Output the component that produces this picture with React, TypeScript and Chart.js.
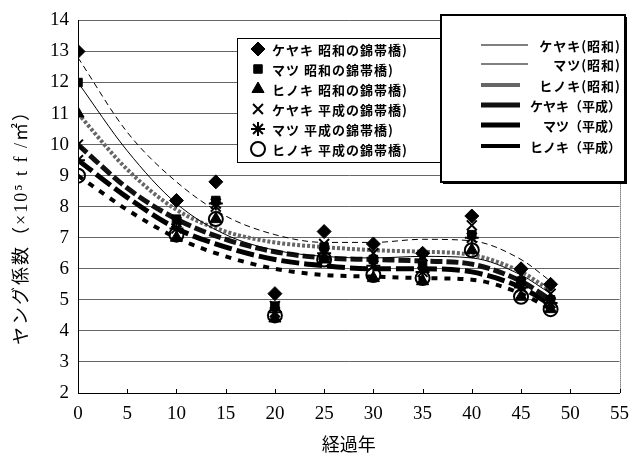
import React, { useEffect, useRef } from 'react';
import { Chart, registerables } from 'chart.js';
import { drawPoint } from 'chart.js/helpers';

Chart.register(...registerables);

// ---------- data ----------
const years = [0, 10, 14, 20, 25, 30, 35, 40, 45, 48];
const keyakiShowa = [13, 8.2, 8.8, 5.2, 7.2, 6.8, 6.5, 7.7, 6.0, 5.5];
const matsuShowa = [12, 7.6, 8.2, 4.8, 6.7, 6.3, 6.1, 7.1, 5.6, 5.0];
const hinokiShowa = [11, 7.0, 7.6, 4.4, 6.3, 5.7, 5.6, 6.6, 5.1, 4.7];
const keyakiHeisei = [10, 7.5, 8.0, 4.8, 6.8, 6.5, 6.4, 7.4, 5.8, 5.2];
const matsuHeisei = [9.5, 7.3, 8.1, 4.6, 6.5, 6.1, 5.9, 7.0, 5.4, 4.9];
const hinokiHeisei = [9.0, 7.1, 7.6, 4.5, 6.3, 5.8, 5.7, 6.6, 5.1, 4.7];

const trendYears = [0, 5, 10, 15, 20, 25, 30, 35, 40, 45, 48];
const keyakiShowaTrend = [12.8, 10.4, 8.8, 7.7, 7.1, 6.85, 6.85, 6.95, 6.9, 6.3, 5.6];
const matsuShowaTrend = [12.0, 9.8, 8.1, 7.1, 6.6, 6.4, 6.35, 6.4, 6.35, 5.8, 5.2];
const hinokiShowaTrend = [11.0, 9.2, 7.9, 7.2, 6.85, 6.7, 6.6, 6.55, 6.45, 5.9, 5.3];
const keyakiHeiseiTrend = [10.0, 8.6, 7.6, 6.95, 6.55, 6.35, 6.3, 6.25, 6.15, 5.6, 5.0];
const matsuHeiseiTrend = [9.5, 8.3, 7.3, 6.7, 6.3, 6.1, 6.0, 6.0, 5.9, 5.4, 4.85];
const hinokiHeiseiTrend = [9.0, 7.9, 7.0, 6.4, 6.0, 5.8, 5.75, 5.7, 5.65, 5.2, 4.7];

const pointLabels = [
  'ケヤキ 昭和の錦帯橋)',
  'マツ 昭和の錦帯橋)',
  'ヒノキ 昭和の錦帯橋)',
  'ケヤキ 平成の錦帯橋)',
  'マツ 平成の錦帯橋)',
  'ヒノキ 平成の錦帯橋)',
];
const trendLabels = [
  'ケヤキ(昭和)',
  'マツ(昭和)',
  'ヒノキ(昭和)',
  'ケヤキ（平成）',
  'マツ（平成）',
  'ヒノキ（平成）',
];

const xTicksMin = 0;
const xTicksMax = 55;
const xStep = 5;
const yMin = 2;
const yMax = 14;
const yStep = 1;

const yTitle = 'ヤング係数（×10⁵ t f /㎡）';
const xTitle = '経過年';

const SERIF = "'Liberation Serif', 'Noto Sans CJK JP', serif";
const JP = "'Noto Sans CJK JP', 'Noto Sans', sans-serif";

const pointSeries = [keyakiShowa, matsuShowa, hinokiShowa, keyakiHeisei, matsuHeisei, hinokiHeisei];
const trendSeries = [keyakiShowaTrend, matsuShowaTrend, hinokiShowaTrend, keyakiHeiseiTrend, matsuHeiseiTrend, hinokiHeiseiTrend];

const pointStyles = [
  { pointStyle: 'rectRot', radius: 7, bg: '#000', bw: 1 },
  { pointStyle: 'rect', radius: 6, bg: '#000', bw: 1 },
  { pointStyle: 'triangle', radius: 7, bg: '#000', bw: 1 },
  { pointStyle: 'crossRot', radius: 7, bg: '#000', bw: 2 },
  { pointStyle: 'star', radius: 7, bg: '#000', bw: 2 },
  { pointStyle: 'circle', radius: 7, bg: 'rgba(0,0,0,0)', bw: 2 },
];
const lineStyles = [
  { color: '#000', width: 1, dash: [6, 4] },
  { color: '#000', width: 1, dash: [] },
  { color: '#666', width: 4, dash: [3, 2] },
  { color: '#111', width: 5, dash: [12, 4] },
  { color: '#000', width: 5, dash: [18, 5] },
  { color: '#000', width: 4, dash: [6, 7] },
];

const decorPlugin = {
  id: 'decor',
  afterDatasetsDraw(chart: any) {
    const ctx = chart.ctx as CanvasRenderingContext2D;
    const { right, top, bottom } = chart.chartArea;
    ctx.save();
    // right border
    ctx.strokeStyle = '#333';
    ctx.lineWidth = 1;
    ctx.setLineDash([1, 1]);
    ctx.beginPath();
    ctx.moveTo(Math.round(right) + 0.5, top);
    ctx.lineTo(Math.round(right) + 0.5, bottom);
    ctx.stroke();
    ctx.setLineDash([]);
    // x tick marks
    ctx.strokeStyle = '#000';
    const xs = chart.scales.x;
    for (const t of xs.ticks) {
      const px = Math.round(xs.getPixelForValue(t.value)) + 0.5;
      ctx.beginPath();
      ctx.moveTo(px, bottom);
      ctx.lineTo(px, bottom - 4);
      ctx.stroke();
    }

    // legend 1 (markers)
    const b1 = { x: 237.5, y: 38.5, w: 212, h: 124 };
    ctx.fillStyle = '#fff';
    ctx.fillRect(b1.x, b1.y, b1.w, b1.h);
    ctx.strokeStyle = '#000';
    ctx.lineWidth = 1;
    ctx.strokeRect(b1.x, b1.y, b1.w, b1.h);
    ctx.font = `bold 13px ${JP}`;
    ctx.textBaseline = 'middle';
    ctx.textAlign = 'left';
    for (let i = 0; i < 6; i++) {
      const y = 49 + i * 20;
      const ps = pointStyles[i];
      ctx.fillStyle = ps.bg;
      ctx.strokeStyle = '#000';
      ctx.lineWidth = ps.bw;
      drawPoint(ctx, { pointStyle: ps.pointStyle, radius: ps.radius, rotation: 0, borderWidth: ps.bw } as any, 258, y);
      ctx.fillStyle = '#000';
      (ctx as any).letterSpacing = '1px';
      ctx.fillText(pointLabels[i], 272, y + 1);
      (ctx as any).letterSpacing = '0px';
    }

    // legend 2 (lines)
    const b2 = { x: 441, y: 15, w: 184, h: 167 };
    ctx.fillStyle = '#000';
    ctx.fillRect(b2.x + 2, b2.y + 2, b2.w, b2.h);
    ctx.fillStyle = '#fff';
    ctx.fillRect(b2.x, b2.y, b2.w, b2.h);
    ctx.strokeStyle = '#000';
    ctx.lineWidth = 2;
    ctx.strokeRect(b2.x, b2.y, b2.w, b2.h);
    const ys = [45, 64, 85, 105, 125, 146];
    ctx.font = `bold 13px ${JP}`;
    ctx.textAlign = 'right';
    for (let i = 0; i < 6; i++) {
      const ls = lineStyles[i];
      ctx.strokeStyle = ls.color;
      ctx.lineWidth = ls.width;
      ctx.setLineDash([]);
      ctx.beginPath();
      ctx.moveTo(481, ys[i]);
      ctx.lineTo(i < 2 ? 528 : 520, ys[i]);
      ctx.stroke();
      ctx.fillStyle = '#000';
      (ctx as any).letterSpacing = i < 3 ? '1px' : '0px';
      ctx.fillText(trendLabels[i], 621, ys[i] + 1);
      (ctx as any).letterSpacing = '0px';
    }

    // y title
    ctx.save();
    ctx.translate(22, 223);
    ctx.rotate(-Math.PI / 2);
    ctx.textAlign = 'center';
    ctx.textBaseline = 'middle';
    ctx.fillStyle = '#000';
    ctx.font = `18px ${SERIF}`;
    (ctx as any).letterSpacing = '2px';
    ctx.fillText(yTitle, 0, 0);
    ctx.restore();

    ctx.restore();
  },
};

export default function App() {
  const ref = useRef<HTMLCanvasElement | null>(null);
  useEffect(() => {
    if (!ref.current) return;
    const datasets: any[] = [];
    pointSeries.forEach((vals, i) => {
      const ps = pointStyles[i];
      datasets.push({
        type: 'line',
        label: pointLabels[i],
        data: years.map((x, j) => ({ x, y: vals[j] })),
        showLine: false,
        pointStyle: ps.pointStyle,
        pointRadius: ps.radius,
        pointBackgroundColor: ps.bg,
        pointBorderColor: '#000',
        pointBorderWidth: ps.bw,
        order: 0,
      });
    });
    trendSeries.forEach((vals, i) => {
      const ls = lineStyles[i];
      datasets.push({
        type: 'line',
        label: trendLabels[i],
        data: trendYears.map((x, j) => ({ x, y: vals[j] })),
        borderColor: ls.color,
        borderWidth: ls.width,
        borderDash: ls.dash,
        pointRadius: 0,
        cubicInterpolationMode: 'monotone',
        fill: false,
        order: 1,
      });
    });
    const chart = new Chart(ref.current, {
      type: 'line',
      data: { datasets },
      options: {
        animation: false,
        responsive: false,
        events: [],
        layout: { padding: { left: 0, top: 17, right: 12, bottom: 0 } },
        plugins: { legend: { display: false }, tooltip: { enabled: false } },
        scales: {
          x: {
            type: 'linear',
            min: xTicksMin,
            max: xTicksMax,
            ticks: { stepSize: xStep, color: '#000', font: { family: SERIF, size: 19 }, padding: 10, maxRotation: 0 },
            grid: { drawOnChartArea: false, drawTicks: false },
            border: { color: '#000', width: 1 },
            title: { display: true, text: xTitle, color: '#000', font: { family: JP, size: 18 }, padding: { top: 0, bottom: 9 } },
            afterFit: (s: any) => { s.height = 71; },
          },
          y: {
            min: yMin,
            max: yMax,
            ticks: { stepSize: yStep, color: '#000', font: { family: SERIF, size: 19 }, padding: 9 },
            grid: { color: '#666', drawTicks: false },
            border: { color: '#000', width: 1 },
            afterFit: (s: any) => { s.width = 78; },
          },
        },
      },
      plugins: [decorPlugin],
    });
    return () => chart.destroy();
  }, []);
  return (
    <div style={{ position: 'fixed', left: 0, top: 0, width: 639, height: 464, background: '#fff' }}>
      <canvas ref={ref} width={639} height={464} style={{ display: 'block' }} />
    </div>
  );
}
